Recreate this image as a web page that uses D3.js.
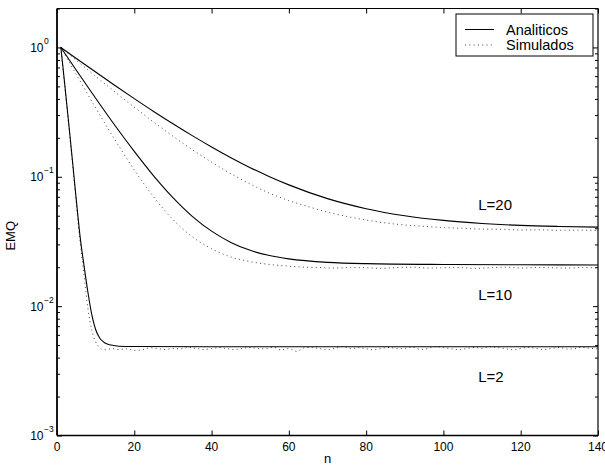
<!DOCTYPE html>
<html>
<head>
<meta charset="utf-8">
<script src="https://cdn.jsdelivr.net/npm/d3@7"></script>
<style>
  body { margin: 0; background: #fff; }
  text { font-family: "Liberation Sans", Arial, Helvetica, sans-serif; fill: #000; }
</style>
</head>
<body>
<div id="chart"></div>
<script>
// EMQ curves, analytic vs simulated, for L = 2, 10, 20  ([n, value])
const l20Ana = [[1,1],[5,0.822],[10,0.645],[15,0.508],[20,0.402],[25,0.320],[30,0.257],[35,0.208],[40,0.170],[45,0.1405],[50,0.1177],[55,0.1002],[60,0.0866],[70,0.0678],[80,0.0567],[90,0.0500],[100,0.0460],[110,0.0436],[120,0.0421],[130,0.0413],[140,0.0408]];
const l20Sim = [[1,1],[5,0.795],[10,0.598],[15,0.453],[20,0.345],[25,0.265],[30,0.206],[35,0.162],[40,0.1297],[45,0.1057],[50,0.0879],[55,0.0747],[60,0.0655],[65,0.0588],[70,0.0533],[75,0.0494],[80,0.0463],[85,0.0440],[90,0.0424],[95,0.0414],[100,0.0405],[105,0.0400],[110,0.0394],[115,0.0393],[120,0.0388],[125,0.0389],[130,0.0386],[135,0.0387],[140,0.0385]];

const l10Ana = [[1,1],[5,0.667],[10,0.405],[15,0.249],[20,0.157],[25,0.1017],[30,0.069],[35,0.0495],[40,0.0380],[45,0.0311],[50,0.0270],[55,0.0246],[60,0.0232],[70,0.0218],[80,0.0213],[100,0.0210],[120,0.0209],[140,0.0208]];
const l10Sim = [[1,1],[5,0.617],[10,0.341],[15,0.193],[20,0.113],[25,0.070],[30,0.0467],[35,0.0344],[40,0.0278],[45,0.0240],[50,0.0221],[55,0.0210],[60,0.0204],[64,0.0200],[68,0.0199],[72,0.0197],[76,0.0199],[80,0.0198],[84,0.0196],[88,0.0199],[92,0.0200],[96,0.0197],[100,0.0198],[104,0.0199],[108,0.0196],[112,0.0198],[116,0.0200],[120,0.0197],[124,0.0199],[128,0.0198],[132,0.0197],[136,0.0199],[140,0.0198]];

const l2Ana = [[1,1],[2,0.52],[3,0.265],[4,0.133],[5,0.066],[6,0.034],[7,0.0205],[8,0.0128],[9,0.0086],[10,0.0066],[11,0.0057],[12,0.0053],[13,0.0051],[14,0.0050],[16,0.00490],[20,0.00487],[40,0.00486],[140,0.00486]];
const l2SimHead = [[1,1],[2,0.50],[3,0.255],[4,0.128],[5,0.062],[6,0.031],[7,0.0172],[8,0.0096],[9,0.0065],[10,0.0053],[11,0.0048],[12,0.0046],[13,0.0046]];
// n = 14, 16, ... 140
const l2SimTail = [
  0.00470,0.00462,0.00468,0.00455,0.00460,0.00476,0.00470,0.00463,
  0.00471,0.00468,0.00480,0.00472,0.00462,0.00470,0.00478,0.00469,
  0.00461,0.00472,0.00479,0.00470,0.00468,0.00481,0.00458,0.00470,
  0.00447,0.00476,0.00480,0.00469,0.00462,0.00471,0.00488,0.00470,
  0.00477,0.00468,0.00460,0.00471,0.00479,0.00469,0.00472,0.00482,
  0.00463,0.00470,0.00487,0.00478,0.00468,0.00461,0.00470,0.00479,
  0.00471,0.00486,0.00478,0.00469,0.00460,0.00471,0.00480,0.00470,
  0.00463,0.00471,0.00479,0.00466,0.00470,0.00481,0.00472,0.00468];
const l2Sim = l2SimHead.concat(d3.range(14, 141, 2).map((n, i) => [n, l2SimTail[i]]));

const xTicks = [0, 20, 40, 60, 80, 100, 120, 140];
const yMajor = [1e-3, 1e-2, 1e-1, 1];
const yExp = ["\u22123", "\u22122", "\u22121", "0"];
const curveLabels = [{txt: "L=20", n: 109, v: 0.061}, {txt: "L=10", n: 109, v: 0.0122}, {txt: "L=2", n: 109, v: 0.00285}];
const legendItems = ["Analiticos", "Simulados"];

const W = 605, H = 467;
const margin = {top: 8.5, left: 57, right: 7, bottom: 31.5};
const width = W - margin.left - margin.right;
const height = H - margin.top - margin.bottom;

const svg = d3.select('#chart').append('svg')
    .attr('width', W)
    .attr('height', H);

const x = d3.scaleLinear().domain([0, 140]).range([0, width]);
const y = d3.scaleLog().domain([1e-3, 2]).range([height, 0]);

const g = svg.append('g')
    .attr('transform', 'translate(' + margin.left + ',' + margin.top + ')');

// minor log ticks
let yMinor = [];
[1e-3, 1e-2, 1e-1, 1].forEach(function (d) {
    for (let k = 2; k <= 9; k++) {
        if (d * k <= 2) yMinor.push(d * k);
    }
});

function noLine(sel) { sel.select('.domain').remove(); }

// left / right ticks (inward)
g.append('g').call(d3.axisLeft(y).tickValues(yMinor).tickSize(-3).tickFormat('')).call(noLine);
g.append('g').call(d3.axisLeft(y).tickValues(yMajor).tickSize(-5).tickFormat('')).call(noLine);
g.append('g').attr('transform', 'translate(' + width + ',0)')
    .call(d3.axisRight(y).tickValues(yMinor).tickSize(-3).tickFormat('')).call(noLine);
g.append('g').attr('transform', 'translate(' + width + ',0)')
    .call(d3.axisRight(y).tickValues(yMajor).tickSize(-5).tickFormat('')).call(noLine);

// bottom / top ticks
g.append('g').attr('transform', 'translate(0,' + height + ')')
    .call(d3.axisBottom(x).tickValues(xTicks).tickSize(-5).tickFormat('')).call(noLine);
g.append('g')
    .call(d3.axisTop(x).tickValues(xTicks).tickSize(-5).tickFormat('')).call(noLine);

g.selectAll('.tick line').attr('stroke', '#000').attr('stroke-width', 1);

// tick labels
g.selectAll('.xlab')
    .data(xTicks)
    .enter().append('text')
    .attr('x', d => x(d))
    .attr('y', height + 15)
    .attr('text-anchor', 'middle')
    .attr('font-size', '12px')
    .text(d => d);

const ylab = g.selectAll('.ylab')
    .data(yMajor)
    .enter().append('g')
    .attr('transform', d => 'translate(0,' + y(d) + ')');
ylab.append('text')
    .attr('x', -13.5)
    .attr('y', 4.5)
    .attr('text-anchor', 'end')
    .attr('font-size', '12px')
    .text('10');
ylab.append('text')
    .attr('x', -13)
    .attr('y', -3.5)
    .attr('font-size', '8.5px')
    .text((d, i) => yExp[i]);

// frame
g.append('line').attr('x1', 0).attr('x2', width).attr('y1', 0).attr('y2', 0).attr('stroke', '#000').attr('stroke-width', 1);
g.append('line').attr('x1', width).attr('x2', width).attr('y1', 0).attr('y2', height).attr('stroke', '#000').attr('stroke-width', 1.2);
g.append('line').attr('x1', 0).attr('x2', width).attr('y1', height).attr('y2', height).attr('stroke', '#000').attr('stroke-width', 1.6);
g.append('line').attr('x1', 0).attr('x2', 0).attr('y1', 0).attr('y2', height).attr('stroke', '#000').attr('stroke-width', 1.8);

// curves
const line = d3.line()
    .x(d => x(d[0]))
    .y(d => y(d[1]))
    .curve(d3.curveMonotoneX);

[l20Sim, l10Sim, l2Sim].forEach(function (s) {
    g.append('path')
        .attr('d', line(s))
        .attr('fill', 'none')
        .attr('stroke', '#444')
        .attr('stroke-width', 1)
        .attr('stroke-dasharray', '1,3.3');
});
[l20Ana, l10Ana, l2Ana].forEach(function (s) {
    g.append('path')
        .attr('d', line(s))
        .attr('fill', 'none')
        .attr('stroke', '#000')
        .attr('stroke-width', 1.1);
});

// curve labels
g.selectAll('.clab')
    .data(curveLabels)
    .enter().append('text')
    .attr('x', d => x(d.n))
    .attr('y', d => y(d.v) + 5.5)
    .attr('font-size', '15px')
    .text(d => d.txt);

// axis titles
svg.append('text')
    .attr('x', margin.left + x(70))
    .attr('y', 463)
    .attr('text-anchor', 'middle')
    .attr('font-size', '13px')
    .text('n');

svg.append('text')
    .attr('transform', 'translate(15,' + (margin.top + y(0.035)) + ') rotate(-90)')
    .attr('text-anchor', 'middle')
    .attr('font-size', '13px')
    .text('EMQ');

// legend
const legend = svg.append('g').attr('transform', 'translate(456,14)');
legend.append('rect')
    .attr('width', 137)
    .attr('height', 42)
    .attr('fill', '#fff')
    .attr('stroke', '#000')
    .attr('stroke-width', 1);

const li = legend.selectAll('.li')
    .data(legendItems)
    .enter().append('g')
    .attr('transform', (d, i) => 'translate(0,' + (15.5 + i * 15.5) + ')');
li.append('line')
    .attr('x1', 9).attr('x2', 38)
    .attr('stroke', (d, i) => i === 0 ? '#000' : '#444')
    .attr('stroke-width', 1)
    .attr('stroke-dasharray', (d, i) => i === 0 ? null : '1,3.3');
li.append('text')
    .attr('x', 50)
    .attr('y', 5)
    .attr('font-size', '14.5px')
    .text(d => d);
</script>
</body>
</html>
